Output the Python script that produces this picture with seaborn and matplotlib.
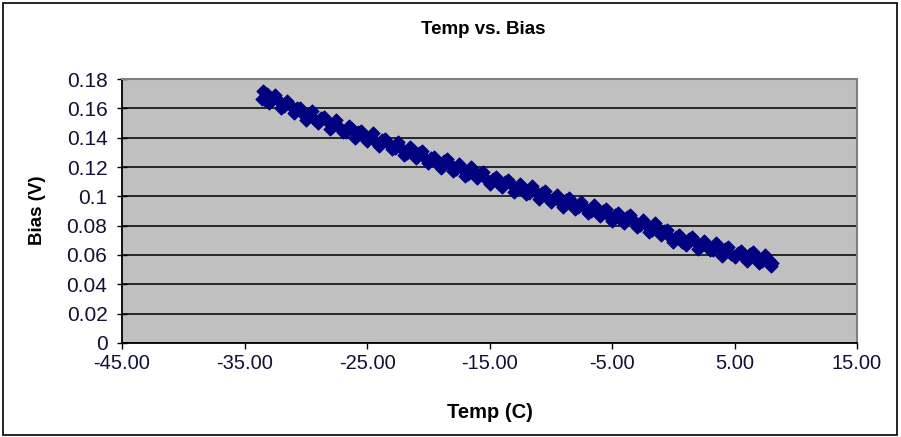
import matplotlib
matplotlib.use("Agg")
import matplotlib.pyplot as plt
import seaborn as sns
import pandas as pd
from matplotlib.patches import Rectangle

# Measured sensor bias against temperature, two interleaved logging passes
temp_c_a = [
    -33.6, -33.5, -33.3, -33.2, -33.0, -32.5, -32.0, -31.5, -31.0, -30.5,
    -30.0, -29.5, -29.0, -28.5, -28.0, -27.5, -27.0, -26.5, -26.0, -25.5,
    -25.0, -24.5, -24.0, -23.5, -23.0, -22.5, -22.0, -21.5, -21.0, -20.5,
    -20.0, -19.5, -19.0, -18.5, -18.0, -17.5, -17.0, -16.5, -16.0, -15.5,
    -15.0, -14.5, -14.0, -13.5, -13.0, -12.5, -12.0, -11.5, -11.0, -10.5,
    -10.0, -9.5, -9.0, -8.5, -8.0, -7.5, -7.0, -6.5, -6.0, -5.5,
    -5.0, -4.5, -4.0, -3.5, -3.0, -2.5, -2.0, -1.5, -1.0, -0.5,
    0.0, 0.5, 1.0, 1.5, 2.0, 2.5, 3.0, 3.5, 4.0, 4.5,
    5.0, 5.5, 6.0, 6.5, 7.0, 7.5, 7.8, 8.0, 8.1,
]
bias_v_a = [
    0.1665, 0.1715, 0.1660, 0.1695, 0.1635, 0.1689, 0.1603, 0.1652, 0.1568, 0.1605,
    0.1522, 0.1579, 0.1498, 0.1542, 0.1460, 0.1519, 0.1438, 0.1478, 0.1399, 0.1444,
    0.1374, 0.1430, 0.1340, 0.1391, 0.1323, 0.1369, 0.1280, 0.1336, 0.1261, 0.1311,
    0.1226, 0.1271, 0.1191, 0.1252, 0.1173, 0.1220, 0.1142, 0.1203, 0.1124, 0.1165,
    0.1086, 0.1132, 0.1062, 0.1114, 0.1032, 0.1085, 0.1018, 0.1070, 0.0983, 0.1036,
    0.0963, 0.1006, 0.0928, 0.0991, 0.0913, 0.0961, 0.0883, 0.0941, 0.0868, 0.0912,
    0.0831, 0.0886, 0.0815, 0.0874, 0.0793, 0.0837, 0.0756, 0.0815, 0.0734, 0.0773,
    0.0692, 0.0736, 0.0669, 0.0723, 0.0642, 0.0697, 0.0631, 0.0680, 0.0594, 0.0653,
    0.0583, 0.0629, 0.0560, 0.0620, 0.0546, 0.0602, 0.0565, 0.0522, 0.0545,
]
temp_c_b = [
    -33.25, -32.75, -32.25, -31.75, -31.25, -30.75, -30.25, -29.75, -29.25, -28.75,
    -28.25, -27.75, -27.25, -26.75, -26.25, -25.75, -25.25, -24.75, -24.25, -23.75,
    -23.25, -22.75, -22.25, -21.75, -21.25, -20.75, -20.25, -19.75, -19.25, -18.75,
    -18.25, -17.75, -17.25, -16.75, -16.25, -15.75, -15.25, -14.75, -14.25, -13.75,
    -13.25, -12.75, -12.25, -11.75, -11.25, -10.75, -10.25, -9.75, -9.25, -8.75,
    -8.25, -7.75, -7.25, -6.75, -6.25, -5.75, -5.25, -4.75, -4.25, -3.75,
    -3.25, -2.75, -2.25, -1.75, -1.25, -0.75, -0.25, 0.25, 0.75, 1.25,
    1.75, 2.25, 2.75, 3.25, 3.75, 4.25, 4.75, 5.25, 5.75, 6.25,
    6.75, 7.25, 7.75,
]
bias_v_b = [
    0.1683, 0.1655, 0.1654, 0.1613, 0.1623, 0.1599, 0.1561, 0.1558, 0.1521, 0.1535,
    0.1514, 0.1477, 0.1476, 0.1441, 0.1456, 0.1437, 0.1402, 0.1402, 0.1368, 0.1383,
    0.1365, 0.1331, 0.1332, 0.1298, 0.1314, 0.1294, 0.1259, 0.1259, 0.1224, 0.1239,
    0.1220, 0.1187, 0.1189, 0.1155, 0.1171, 0.1152, 0.1118, 0.1119, 0.1085, 0.1101,
    0.1083, 0.1051, 0.1054, 0.1022, 0.1039, 0.1022, 0.0990, 0.0992, 0.0960, 0.0977,
    0.0960, 0.0927, 0.0930, 0.0897, 0.0915, 0.0898, 0.0867, 0.0871, 0.0841, 0.0860,
    0.0841, 0.0805, 0.0804, 0.0768, 0.0782, 0.0761, 0.0725, 0.0724, 0.0690, 0.0709,
    0.0693, 0.0662, 0.0667, 0.0636, 0.0655, 0.0639, 0.0608, 0.0614, 0.0585, 0.0605,
    0.0591, 0.0562, 0.0567,
]

x_ticks = [-45, -35, -25, -15, -5, 5, 15]
x_tick_labels = ["-45.00", "-35.00", "-25.00", "-15.00", "-5.00", "5.00", "15.00"]
y_ticks = [0, 0.02, 0.04, 0.06, 0.08, 0.10, 0.12, 0.14, 0.16, 0.18]
y_tick_labels = ["0", "0.02", "0.04", "0.06", "0.08", "0.1", "0.12", "0.14", "0.16", "0.18"]

sns.set_theme(style="white")
plt.rcParams["font.family"] = ["Liberation Sans", "DejaVu Sans"]

W, H = 901, 437
fig = plt.figure(figsize=(W / 100, H / 100), dpi=100)
fig.patch.set_facecolor("white")

# plot area in pixel coordinates: x 122..857, y 79..343
ax = fig.add_axes([122 / W, 1 - 343 / H, (857 - 122) / W, (343 - 79) / H])

df = pd.DataFrame({"Temp (C)": temp_c_a + temp_c_b,
                   "Bias (V)": bias_v_a + bias_v_b})
sns.scatterplot(data=df, x="Temp (C)", y="Bias (V)", marker="D", s=44,
                color="#000080", edgecolor="#000080", linewidth=0.8,
                ax=ax, legend=False, zorder=3)

ax.set_facecolor("#C0C0C0")
ax.set_xlim(-45, 15)
ax.set_ylim(0, 0.18)
ax.set_xticks(x_ticks)
ax.set_xticklabels(x_tick_labels)
ax.set_yticks(y_ticks)
ax.set_yticklabels(y_tick_labels)
ax.set_xlabel("")
ax.set_ylabel("")

ax.yaxis.grid(True, color="#1a1a1a", linewidth=1.3)
ax.xaxis.grid(False)
ax.set_axisbelow(True)

for side in ("left", "bottom"):
    ax.spines[side].set_color("black")
    ax.spines[side].set_linewidth(1.3)
for side in ("top", "right"):
    ax.spines[side].set_color("#808080")
    ax.spines[side].set_linewidth(1.5)

ax.tick_params(axis="y", direction="inout", length=7, width=1, color="black",
               pad=7, labelsize=15, labelcolor="#111133", left=True)
ax.tick_params(axis="x", direction="out", length=4, width=1, color="black",
               pad=4, labelsize=14.5, labelcolor="#111133", bottom=True)

fig.text(483 / W, 1 - 30 / H, "Temp vs. Bias", ha="center", va="center",
         fontsize=13.5, fontweight="bold", color="black")
fig.text(38 / W, 1 - 210 / H, "Bias (V)", ha="center", va="center",
         rotation=90, fontsize=13.5, fontweight="bold", color="black")
fig.text(490 / W, 1 - 413 / H, "Temp (C)", ha="center", va="center",
         fontsize=14.5, fontweight="bold", color="black")

# chart frame
fig.patches.append(Rectangle((3 / W, 2 / H), (897 - 3) / W, (434 - 2) / H,
                             transform=fig.transFigure, fill=False,
                             edgecolor="black", linewidth=1.2))

fig.savefig("out.png", dpi=100)
